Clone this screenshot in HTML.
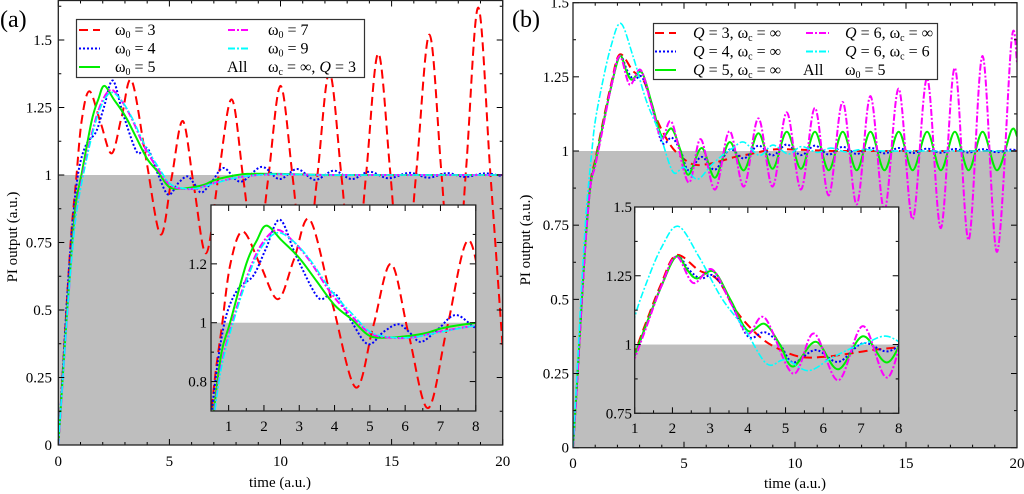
<!DOCTYPE html>
<html><head><meta charset="utf-8"><style>
html,body{margin:0;padding:0;background:#fff;width:1024px;height:494px;overflow:hidden;}
svg{display:block;font-family:"Liberation Serif",serif;overflow:hidden;}
text{font-family:"Liberation Serif",serif;}
</style></head><body>
<svg id="fig" width="1024" height="494" viewBox="0 0 1024 494" xmlns="http://www.w3.org/2000/svg" font-family="Liberation Serif, serif">
<defs>
<clipPath id="cA"><rect x="58.3" y="0.5" width="444.4" height="444.5"/></clipPath>
<clipPath id="cAi"><rect x="211" y="205" width="264.75" height="206"/></clipPath>
<clipPath id="cB"><rect x="573" y="2.7" width="444" height="445"/></clipPath>
<clipPath id="cBi"><rect x="634.7" y="207" width="264" height="206.3"/></clipPath>
</defs>
<g id="gA"></g>
<g id="gB"></g>
</svg>
<script>
// ---------- Panel (a) data ----------
const aRedT=[0,0.2,0.4,0.6,0.8,1.05,1.4,1.9,2.4,2.85,3.3,3.95,4.6,5.1,5.6,6.1,6.65,7.2,7.8,8.35,8.9,9.45,10.0,10.55,11.1,11.65,12.2,12.75,13.3,13.85,14.4,14.95,15.5,16.1,16.7,17.25,17.8,18.35,18.9,19.45,20];
const aRedY=[0,0.27,0.55,0.8,0.98,1.2,1.31,1.195,1.08,1.215,1.35,1.06,0.78,0.99,1.20,0.96,0.71,0.99,1.28,0.97,0.66,0.99,1.33,0.99,0.61,0.99,1.38,0.99,0.56,1.0,1.45,1.0,0.5,1.0,1.52,1.0,0.45,1.02,1.62,1.0,0.36];
const aBlueT=[0,0.2,0.4,0.6,0.8,1.0,1.3,1.7,2.05,2.45,2.9,3.5,3.8,4.05,4.5,4.95,5.4,5.8,6.1,6.45,6.95,7.45,8.2,9.15,9.95,10.75,11.55,12.4,13.2,14.0,14.85,15.8,16.65,17.5,18.3,19.2,20];
const aBlueY=[0,0.27,0.55,0.78,0.95,1.05,1.12,1.16,1.25,1.35,1.23,1.09,1.09,1.095,1.0,0.927,0.97,0.995,0.97,0.935,0.98,1.026,0.975,1.03,0.985,1.022,0.982,1.016,0.985,1.012,0.988,1.008,0.99,1.007,0.993,1.006,0.995];
const aGreenT=[0,0.2,0.4,0.6,0.8,1.04,1.5,1.8,2.07,2.5,3.0,3.5,4.0,4.5,5.0,5.6,6.1,6.6,7.0,7.6,8.5,10,12,14,16,18,20];
const aGreenY=[0,0.25,0.5,0.72,0.9,1.0,1.2,1.28,1.33,1.28,1.22,1.14,1.06,1.01,0.955,0.95,0.955,0.965,0.98,0.993,1.004,1.004,1.0,1.0,1.0,1.0,1.0];
const aMagT=[0,0.2,0.4,0.6,0.8,1.1,1.5,1.9,2.35,2.8,3.3,3.9,4.5,5.0,5.5,6.2,7.0,8.0,9.0,10,12,14,16,18,20];
const aMagY=[0,0.24,0.48,0.7,0.86,1.0,1.15,1.26,1.315,1.28,1.21,1.1,1.02,0.965,0.95,0.95,0.97,0.99,1.0,1.003,1.0,1.0,1.0,1.0,1.0];
const aCyanT=[0,0.2,0.4,0.6,0.8,1.1,1.5,1.9,2.35,2.8,3.3,3.9,4.5,5.0,5.5,6.2,7.0,8.0,9.0,10,12,14,16,18,20];
const aCyanY=[0,0.24,0.48,0.69,0.85,0.99,1.14,1.25,1.305,1.28,1.215,1.11,1.03,0.97,0.952,0.95,0.968,0.99,1.0,1.003,1.0,1.0,1.0,1.0,1.0];
// ---------- Panel (b) data ----------
const bRedT=[0,0.2,0.4,0.6,0.8,1.0,1.3,1.7,2.1,2.7,3.2,3.7,4.3,4.8,5.4,6.0,6.6,7.3,8.0,9.0,10,11,12,14,16,18,20];
const bRedY=[0,0.24,0.5,0.74,0.9,0.97,1.08,1.22,1.325,1.27,1.235,1.12,1.03,0.985,0.955,0.955,0.965,0.98,0.99,1.005,1.005,1.002,1.0,1.0,1.0,1.0,1.0];
const bBlueT=[0,0.2,0.4,0.6,0.8,1.0,1.3,1.7,2.1,2.45,2.75,3.1,3.5,4.0,4.45,4.85,5.2,5.8,6.4,7.05,7.7,8.35,8.99,9.63,10.27,10.9,11.52,12.15,12.78,13.4,14.03,14.67,15.3,15.95,16.57,17.2,17.82,18.45,19.1,19.75,20];
const bBlueY=[0,0.24,0.5,0.73,0.89,0.96,1.07,1.21,1.32,1.27,1.24,1.25,1.17,1.03,1.045,1.0,0.935,0.98,0.937,1.005,0.975,1.018,0.985,1.022,0.986,1.018,0.988,1.014,0.99,1.011,0.992,1.01,0.993,1.008,0.994,1.007,0.995,1.006,0.996,1.005,1.0];
const bGreenT=[0,0.2,0.4,0.6,0.8,1.0,1.3,1.7,2.1,2.4,2.65,3.1,3.55,4.0,4.45,4.85,5.2,5.8,6.4,7.05,7.7,8.35,8.99,9.63,10.27,10.9,11.52,12.15,12.78,13.4,14.03,14.67,15.3,15.95,16.57,17.2,17.82,18.45,19.1,19.75,20];
const bGreenY=[0,0.24,0.5,0.73,0.89,0.96,1.07,1.21,1.32,1.27,1.24,1.265,1.16,1.05,1.075,1.0,0.92,1.01,0.91,1.03,0.935,1.06,0.94,1.065,0.94,1.065,0.935,1.065,0.935,1.065,0.935,1.065,0.935,1.065,0.935,1.065,0.935,1.065,0.935,1.07,1.05];
const bMagT=[0,0.2,0.4,0.6,0.8,1.0,1.3,1.7,2.1,2.55,3.05,3.55,4.0,4.45,5.2,5.75,6.4,7.05,7.7,8.35,8.99,9.63,10.27,10.9,11.52,12.15,12.78,13.4,14.03,14.67,15.3,15.95,16.57,17.2,17.82,18.45,19.1,19.75,20];
const bMagY=[0,0.24,0.5,0.73,0.89,0.95,1.06,1.21,1.32,1.224,1.273,1.15,1.04,1.097,0.894,1.04,0.87,1.067,0.88,1.11,0.88,1.13,0.87,1.145,0.85,1.165,0.82,1.185,0.80,1.21,0.77,1.245,0.74,1.28,0.70,1.32,0.66,1.37,1.3];
const bCyanT=[0,0.2,0.4,0.6,0.85,1.0,1.3,1.7,2.15,2.7,3.3,3.9,4.5,5.0,5.6,6.2,6.8,7.2,7.7,8.4,9.0,9.7,10.3,11.0,11.6,12.3,13.0,14,16,18,20];
const bCyanY=[0,0.28,0.56,0.8,1.0,1.1,1.22,1.35,1.43,1.32,1.17,1.06,0.93,0.945,0.905,0.95,0.99,1.01,1.03,0.985,1.02,0.99,1.015,0.995,1.01,0.997,1.005,1.0,1.0,1.0,1.0];
// tick labels
const aXTicks=["0","5","10","15","20"];
const aYTicks=["0","0.25","0.5","0.75","1","1.25","1.5"];
const aInXTicks=["1","2","3","4","5","6","7","8"];
const aInYTicks=["0.8","1","1.2"];
const bXTicks=["0","5","10","15","20"];
const bYTicks=["0","0.25","0.5","0.75","1","1.25","1.5"];
const bInXTicks=["1","2","3","4","5","6","7","8"];
const bInYTicks=["0.75","1","1.25","1.5"];

const NS="http://www.w3.org/2000/svg";
const FF="Liberation Serif, serif";
function mk(parent,tag,attrs){const e=document.createElementNS(NS,tag);for(const k in attrs)e.setAttribute(k,attrs[k]);parent.appendChild(e);return e;}
function lin(d0,d1,r0,r1){return v=>r0+(v-d0)*(r1-r0)/(d1-d0);}
function pathD(T,Y,sx,sy){
  const p=T.map((t,i)=>[sx(t),sy(Y[i])]);
  let d="M"+p[0][0].toFixed(2)+","+p[0][1].toFixed(2);
  for(let i=0;i<p.length-1;i++){
    const p0=p[Math.max(0,i-1)],p1=p[i],p2=p[i+1],p3=p[Math.min(p.length-1,i+2)];
    const c1=[p1[0]+(p2[0]-p0[0])/6,p1[1]+(p2[1]-p0[1])/6];
    const c2=[p2[0]-(p3[0]-p1[0])/6,p2[1]-(p3[1]-p1[1])/6];
    d+="C"+c1[0].toFixed(2)+","+c1[1].toFixed(2)+" "+c2[0].toFixed(2)+","+c2[1].toFixed(2)+" "+p2[0].toFixed(2)+","+p2[1].toFixed(2);
  }
  return d;
}
const ST={
  red:{stroke:"#ff0000",dash:"9,5",w:2},
  blue:{stroke:"#0000ff",dash:"2,2",w:2},
  green:{stroke:"#00ee00",dash:"",w:2},
  mag:{stroke:"#ff00ff",dash:"7,2,2,2",w:2},
  cyan:{stroke:"#00ffff",dash:"7,2,2,2",w:1.6}
};
function series(g,T,Y,sx,sy,st,name){
  const p=mk(g,"path",{d:pathD(T,Y,sx,sy),fill:"none",stroke:st.stroke,"stroke-width":st.w,"stroke-dasharray":st.dash});
  
  
}
function frameAxes(g,x0,x1,y0,y1,sx,sy,xmaj,xmin,ymaj,ymin,xr,yr,xlabels,ylabels,xLabY,yLabX,fs,prefix){
  const L=6,l=3;
  const ax=mk(g,"g",{stroke:"#000","stroke-width":1});
  
  
  for(let v=xr[0];v<=xr[1]+1e-9;v+=xmin){
    const maj=Math.abs(v/xmaj-Math.round(v/xmaj))<1e-6;const X=sx(v);const len=maj?L:l;
    mk(ax,"line",{x1:X,x2:X,y1:y1,y2:y1-len});mk(ax,"line",{x1:X,x2:X,y1:y0,y2:y0+len});
  }
  for(let v=yr[0];v<=yr[1]+1e-9;v+=ymin){
    const maj=Math.abs(v/ymaj-Math.round(v/ymaj))<1e-6;const Y=sy(v);const len=maj?L:l;
    mk(ax,"line",{x1:x0,x2:x0+len,y1:Y,y2:Y});mk(ax,"line",{x1:x1,x2:x1-len,y1:Y,y2:Y});
  }
  const fr=mk(g,"rect",{x:x0,y:y0,width:x1-x0,height:y1-y0,fill:"none",stroke:"#222","stroke-width":1.3});
  
  
  xlabels.forEach(s=>{
    const t=mk(g,"text",{x:sx(parseFloat(s)),y:xLabY,"font-size":fs,"text-anchor":"middle","font-family":FF});t.textContent=s;
    
    
  });
  ylabels.forEach(s=>{
    const t=mk(g,"text",{x:yLabX,y:sy(parseFloat(s))+5,"font-size":fs,"text-anchor":"end","font-family":FF});t.textContent=s;
    
    
  });
}
function plotArea(g,clip,x0,x1,y0,y1,sy,sets,sx,prefix){
  const gr=mk(g,"g",{"clip-path":"url(#"+clip+")"});
  
  
  mk(gr,"rect",{x:x0,y:y0,width:x1-x0,height:y1-y0,fill:"#fff"});
  const gy=sy(1);
  const sh=mk(gr,"rect",{x:x0,y:gy,width:x1-x0,height:y1-gy,fill:"#bebebe"});
  
  
  sets.forEach(s=>series(gr,s[0],s[1],sx,sy,s[2],prefix+'-'+s[3]));
}
function txt(g,x,y,fs,html,name,anchor,rot){
  const t=mk(g,"text",{x:x,y:y,"font-size":fs,"text-anchor":anchor||"start","font-family":FF});
  if(rot)t.setAttribute("transform","rotate(-90 "+x+" "+y+")");
  t.innerHTML=html;
  
  
  return t;
}
const sub=s=>'<tspan font-size="10" dy="3">'+s+'</tspan><tspan dy="-3">';
const ws=sub("0")+" = ";
// ===== Panel A =====
const gA=document.getElementById("gA");
const xA=lin(0,20,58.3,502.7),yA=lin(0,1,445,175);
const setsA=[[aRedT,aRedY,ST.red,"omega3"],[aBlueT,aBlueY,ST.blue,"omega4"],[aGreenT,aGreenY,ST.green,"omega5"],[aMagT,aMagY,ST.mag,"omega7"],[aCyanT,aCyanY,ST.cyan,"omega9"]];
plotArea(gA,"cA",58.3,502.7,0.5,445,yA,setsA,xA,"main-a");
frameAxes(gA,58.3,502.7,0.5,445,xA,yA,5,1,0.25,0.125,[0,20],[0,1.625],aXTicks,aYTicks,466,52,15,"main-a");
const xAi=lin(0.5,8,211,475.75),yAi=lin(0.7,1.4,411,205);
plotArea(gA,"cAi",211,475.75,205,411,yAi,setsA,xAi,"inset-a");
frameAxes(gA,211,475.75,205,411,xAi,yAi,1,0.5,0.2,0.1,[0.5,8],[0.7,1.4],aInXTicks,aInYTicks,431,207,15,"inset-a");
txt(gA,17,237,15,"PI output (a.u.)","y-axis-title-a","middle",true);
txt(gA,280,487,15,"time (a.u.)","x-axis-title-a","middle");
txt(gA,0,27,24,"(a)","panel-label-a");
// legend A
const lgA=mk(gA,"g",{});


mk(lgA,"rect",{x:76.5,y:19.5,width:288,height:58,fill:"#fff",stroke:"#333","stroke-width":1.2});
[[ST.red,"3",30],[ST.blue,"4",48.5],[ST.green,"5",67]].forEach(r=>{
  mk(lgA,"line",{x1:79,x2:100,y1:r[2],y2:r[2],stroke:r[0].stroke,"stroke-width":2,"stroke-dasharray":r[0].dash});
  txt(lgA,115,r[2]+5,16,"ω"+ws+r[1]+"</tspan>","legend-entry-omega"+r[1]);
});
[[ST.mag,"7",30],[ST.cyan,"9",48.5]].forEach(r=>{
  mk(lgA,"line",{x1:228,x2:250,y1:r[2],y2:r[2],stroke:r[0].stroke,"stroke-width":2,"stroke-dasharray":r[0].dash});
  txt(lgA,268,r[2]+5,16,"ω"+ws+r[1]+"</tspan>","legend-entry-omega"+r[1]);
});
txt(lgA,227,72,16,"All","legend-all-label");
txt(lgA,268,72,16,"ω"+sub("c")+" = ∞, <tspan font-style=\"italic\">Q</tspan> = 3</tspan>","legend-common-params");
// ===== Panel B =====
const gB=document.getElementById("gB");
const xB=lin(0,20,573,1017),yB=lin(0,1,447.7,151);
const setsB=[[bRedT,bRedY,ST.red,"q3"],[bBlueT,bBlueY,ST.blue,"q4"],[bGreenT,bGreenY,ST.green,"q5"],[bMagT,bMagY,ST.mag,"q6"],[bCyanT,bCyanY,ST.cyan,"q6-wc6"]];
plotArea(gB,"cB",573,1017,2.7,447.7,yB,setsB,xB,"main-b");
frameAxes(gB,573,1017,2.7,447.7,xB,yB,5,1,0.25,0.125,[0,20],[0,1.5],bXTicks,bYTicks,468,569,15,"main-b");
const xBi=lin(1,8,634.7,898.7),yBi=lin(0.75,1.5,413.3,207);
plotArea(gB,"cBi",634.7,898.7,207,413.3,yBi,setsB,xBi,"inset-b");
frameAxes(gB,634.7,898.7,207,413.3,xBi,yBi,1,0.5,0.25,0.125,[1,8],[0.75,1.5],bInXTicks,bInYTicks,433,632,15,"inset-b");
txt(gB,530,240,15,"PI output (a.u.)","y-axis-title-b","middle",true);
txt(gB,795,488,15,"time (a.u.)","x-axis-title-b","middle");
txt(gB,512,27,24,"(b)","panel-label-b");
const lgB=mk(gB,"g",{});


mk(lgB,"rect",{x:653.5,y:23.5,width:284,height:56,fill:"#fff",stroke:"#333","stroke-width":1.2});
const qi='<tspan font-style="italic">Q</tspan>';
[[ST.red,"3",33],[ST.blue,"4",51.5],[ST.green,"5",70]].forEach(r=>{
  mk(lgB,"line",{x1:655,x2:676,y1:r[2],y2:r[2],stroke:r[0].stroke,"stroke-width":2,"stroke-dasharray":r[0].dash});
  txt(lgB,693,r[2]+5,16,qi+" = "+r[1]+", ω"+sub("c")+" = ∞</tspan>","legend-entry-q"+r[1]);
});
[[ST.mag,"∞",33],[ST.cyan,"6",51.5]].forEach(r=>{
  mk(lgB,"line",{x1:806,x2:829,y1:r[2],y2:r[2],stroke:r[0].stroke,"stroke-width":2,"stroke-dasharray":r[0].dash});
  txt(lgB,845,r[2]+5,16,qi+" = 6, ω"+sub("c")+" = "+r[1]+"</tspan>","legend-entry-q6-wc"+(r[1]=="6"?"6":"inf"));
});
txt(lgB,803,75,16,"All","legend-all-label-b");
txt(lgB,845,75,16,"ω"+ws+"5</tspan>","legend-common-omega");
</script>
</body></html>
